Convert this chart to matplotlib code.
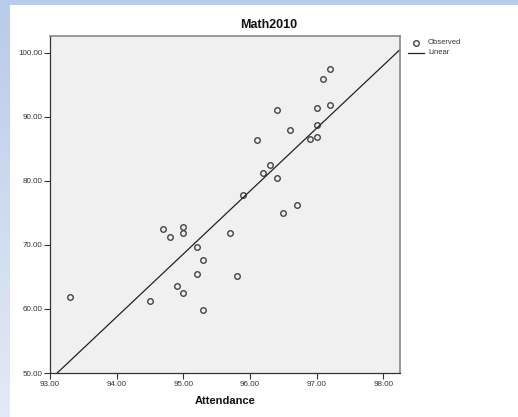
import numpy as np
import matplotlib
matplotlib.use("Agg")
import matplotlib.pyplot as plt
from matplotlib.patches import Rectangle
from matplotlib.lines import Line2D

plt.rcParams['font.family'] = ['Liberation Sans', 'DejaVu Sans']

# observed points
attendance = [97.2, 97.1, 96.4, 97.0, 97.2, 97.0, 96.6, 96.1, 96.9, 97.0,
              96.3, 96.2, 96.4, 95.9, 96.7, 96.5, 95.7, 94.7, 95.0, 95.0,
              94.8, 95.2, 95.3, 95.2, 95.8, 94.9, 95.0, 94.5, 93.3, 95.3]
math2010 = [97.45, 95.9, 91.1, 91.4, 91.9, 88.75, 87.9, 86.4, 86.6, 86.9,
            82.5, 81.2, 80.4, 77.8, 76.3, 74.9, 71.9, 72.45, 72.8, 71.9,
            71.3, 69.6, 67.6, 65.5, 65.1, 63.6, 62.45, 61.3, 61.8, 59.8]

x_ticks = [93, 94, 95, 96, 97, 98]
y_ticks = [50, 60, 70, 80, 90, 100]

W, H = 518, 417
fig = plt.figure(figsize=(W / 100, H / 100), dpi=100)
fig.patch.set_facecolor('white')

# blue frame bands (top and left)
fig.patches.append(Rectangle((0, 1 - 5 / H), 1, 5 / H, transform=fig.transFigure,
                             facecolor='#b9cbea', edgecolor='none', zorder=0))
grad = fig.add_axes([0, 0, 10 / W, 1 - 5 / H])
grad.imshow(np.linspace(0, 1, 100).reshape(-1, 1), aspect='auto', cmap=matplotlib.colors.LinearSegmentedColormap.from_list('b', ['#b9cbea', '#e3eaf6']))
grad.axis('off')

ax = fig.add_axes([50 / W, 1 - 373 / H, 350 / W, (373 - 36) / H])
ax.set_facecolor('#f0f0f0')

ax.plot(attendance, math2010, linestyle='none', marker='o', markersize=4,
        markerfacecolor='none', markeredgecolor='#444444', markeredgewidth=1.0)

slope, intercept = np.polyfit(attendance, math2010, 1)
xl = np.array([93.0, 98.25])
ax.plot(xl, intercept + slope * xl, color='#222222', linewidth=0.9)

ax.set_xlim(93.0, 98.25)
ax.set_ylim(50, 102.6)
ax.set_xticks(x_ticks)
ax.set_yticks(y_ticks)
ax.set_xticklabels(['%.2f' % v for v in x_ticks])
ax.set_yticklabels(['%.2f' % v for v in y_ticks])
ax.tick_params(labelsize=5.8, labelcolor='#333333', length=4, width=0.8,
               color='#333333', pad=1.5)
for s in ['left', 'bottom']:
    ax.spines[s].set_color('#333333')
    ax.spines[s].set_linewidth(0.9)
for s in ['top', 'right']:
    ax.spines[s].set_color('#888888')
    ax.spines[s].set_linewidth(1.2)

ax.set_xlabel('Attendance', fontsize=8, fontweight='bold', color='#111111', labelpad=6)
fig.text(269 / W, 1 - 25 / H, 'Math2010', fontsize=9, fontweight='bold',
         ha='center', va='center', color='#111111')

# legend
fig.add_artist(Line2D([415.5 / W], [1 - 43 / H], marker='o', markersize=4,
                      markerfacecolor='none', markeredgecolor='#444444',
                      markeredgewidth=1.0, transform=fig.transFigure))
fig.add_artist(Line2D([408 / W, 424 / W], [1 - 53 / H, 1 - 53 / H], color='#222222',
                      linewidth=0.9, transform=fig.transFigure))
fig.text(428 / W, 1 - 43 / H, 'Observed', fontsize=5.5, va='center', color='#333333')
fig.text(428 / W, 1 - 53 / H, 'Linear', fontsize=5.5, va='center', color='#333333')

fig.savefig('out.png', dpi=100)
